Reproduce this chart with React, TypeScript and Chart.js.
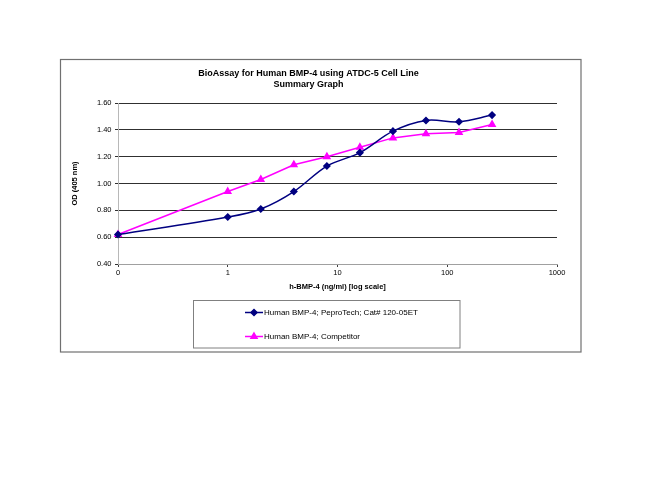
import { useEffect, useRef } from "react";
import { Chart, registerables } from "chart.js";
import { drawPoint } from "chart.js/helpers";

Chart.register(...registerables);

// h-BMP-4 dose (ng/ml); 0 is drawn at the left edge of the log axis
const doses = [0, 1, 2, 4, 8, 16, 32, 64, 128, 256];
const peprotechOD = [0.62, 0.75, 0.81, 0.94, 1.13, 1.23, 1.39, 1.47, 1.46, 1.51];
const competitorOD = [0.62, 0.94, 1.03, 1.14, 1.2, 1.27, 1.34, 1.37, 1.38, 1.44];
const seriesNames = ["Human BMP-4; PeproTech; Cat# 120-05ET", "Human BMP-4; Competitor"];
const xTicks = [0.1, 1, 10, 100, 1000];
const xTickLabels = ["0", "1", "10", "100", "1000"];

const FONT = "'Liberation Sans', Arial, sans-serif";
const X_MIN = 0.1;

const toPoints = (values: number[]) =>
  doses.map((d, i) => ({ x: d === 0 ? X_MIN : d, y: values[i] }));

// chart frame + boxed legend, Excel style
const framePlugin = {
  id: "frame",
  afterDraw(chart: Chart) {
    const ctx = chart.ctx;
    ctx.save();
    ctx.strokeStyle = "#707070";
    ctx.lineWidth = 1.2;
    ctx.strokeRect(60.5, 59.5, 520.5, 292.5);

    ctx.strokeStyle = "#808080";
    ctx.lineWidth = 1;
    ctx.strokeRect(193.5, 300.5, 266.5, 47.5);

    ctx.font = `8px ${FONT}`;
    ctx.textBaseline = "middle";
    ctx.fillStyle = "#000";
    const rows = [312.5, 336.5];
    chart.data.datasets.forEach((ds: any, i: number) => {
      const y = rows[i];
      ctx.strokeStyle = ds.borderColor;
      ctx.lineWidth = 1.5;
      ctx.beginPath();
      ctx.moveTo(245, y);
      ctx.lineTo(263, y);
      ctx.stroke();
      ctx.fillStyle = ds.pointBackgroundColor;
      ctx.strokeStyle = ds.borderColor;
      drawPoint(ctx, { pointStyle: ds.pointStyle, radius: ds.pointRadius, rotation: 0, borderWidth: 1 }, 254, y);
      ctx.fillStyle = "#000";
      ctx.fillText(ds.label, 264, y);
    });
    ctx.restore();
  },
};

export default function App() {
  const chartRef = useRef<HTMLCanvasElement>(null);
  const chartInstance = useRef<Chart | null>(null);

  useEffect(() => {
    if (!chartRef.current) return;
    if (chartInstance.current) chartInstance.current.destroy();

    chartInstance.current = new Chart(chartRef.current, {
      type: "line",
      data: {
        datasets: [
          {
            label: seriesNames[0],
            data: toPoints(peprotechOD),
            borderColor: "#000080",
            backgroundColor: "#000080",
            pointBackgroundColor: "#000080",
            pointBorderColor: "#000080",
            pointStyle: "rectRot",
            pointRadius: 3,
            borderWidth: 1.5,
            tension: 0.35,
            clip: false,
          },
          {
            label: seriesNames[1],
            data: toPoints(competitorOD),
            borderColor: "#FF00FF",
            backgroundColor: "#FF00FF",
            pointBackgroundColor: "#FF00FF",
            pointBorderColor: "#FF00FF",
            pointStyle: "triangle",
            pointRadius: 3.5,
            borderWidth: 1.5,
            tension: 0,
            clip: false,
          },
        ],
      },
      options: {
        responsive: false,
        animation: false,
        layout: { padding: { left: 60, right: 93, top: 68, bottom: 210 } },
        scales: {
          x: {
            type: "logarithmic",
            min: X_MIN,
            max: 1000,
            afterBuildTicks: (scale: any) => {
              scale.ticks = xTicks.map((v) => ({ value: v }));
            },
            afterFit: (scale: any) => {
              scale.height = 28;
            },
            ticks: {
              autoSkip: false,
              maxRotation: 0,
              padding: 1.5,
              color: "#000",
              font: { family: FONT, size: 7.5 },
              callback: (value: any) => {
                const i = xTicks.indexOf(Number(value));
                return i >= 0 ? xTickLabels[i] : "";
              },
            },
            grid: { drawOnChartArea: false, drawTicks: true, tickLength: 3, tickColor: "#404040" },
            border: { color: "#a0a0a0", width: 1 },
            title: {
              display: true,
              text: "h-BMP-4 (ng/ml) [log scale]",
              color: "#000",
              font: { family: FONT, size: 7.5, weight: "bold" },
              padding: { top: 0, bottom: 1 },
            },
          },
          y: {
            min: 0.4,
            max: 1.6,
            afterFit: (scale: any) => {
              scale.width = 58;
            },
            ticks: {
              stepSize: 0.2,
              padding: 3.5,
              color: "#000",
              font: { family: FONT, size: 7.5 },
              callback: (value: any) => Number(value).toFixed(2),
            },
            grid: {
              color: (c: any) => (c.index === 0 ? "#a0a0a0" : "#303030"),
              tickColor: "#303030",
              tickLength: 3,
              lineWidth: 1,
            },
            border: { color: "#b8b8b8", width: 1 },
            title: {
              display: true,
              text: "OD (405 nm)",
              color: "#000",
              font: { family: FONT, size: 7.5, weight: "bold" },
              padding: { top: 10, bottom: 0 },
            },
          },
        },
        plugins: {
          legend: { display: false },
          tooltip: { enabled: false },
          title: {
            display: true,
            text: ["BioAssay for Human BMP-4 using ATDC-5 Cell Line", "Summary Graph"],
            color: "#000",
            font: { family: FONT, size: 9, weight: "bold", lineHeight: 1.2 },
            padding: { top: 0, bottom: 13.4 },
          },
        },
      },
      plugins: [framePlugin],
    } as any);

    return () => {
      if (chartInstance.current) {
        chartInstance.current.destroy();
        chartInstance.current = null;
      }
    };
  }, []);

  return (
    <div style={{ position: "absolute", left: 0, top: 0, width: 650, height: 502, background: "#fff" }}>
      <canvas ref={chartRef} width={650} height={502} />
    </div>
  );
}
